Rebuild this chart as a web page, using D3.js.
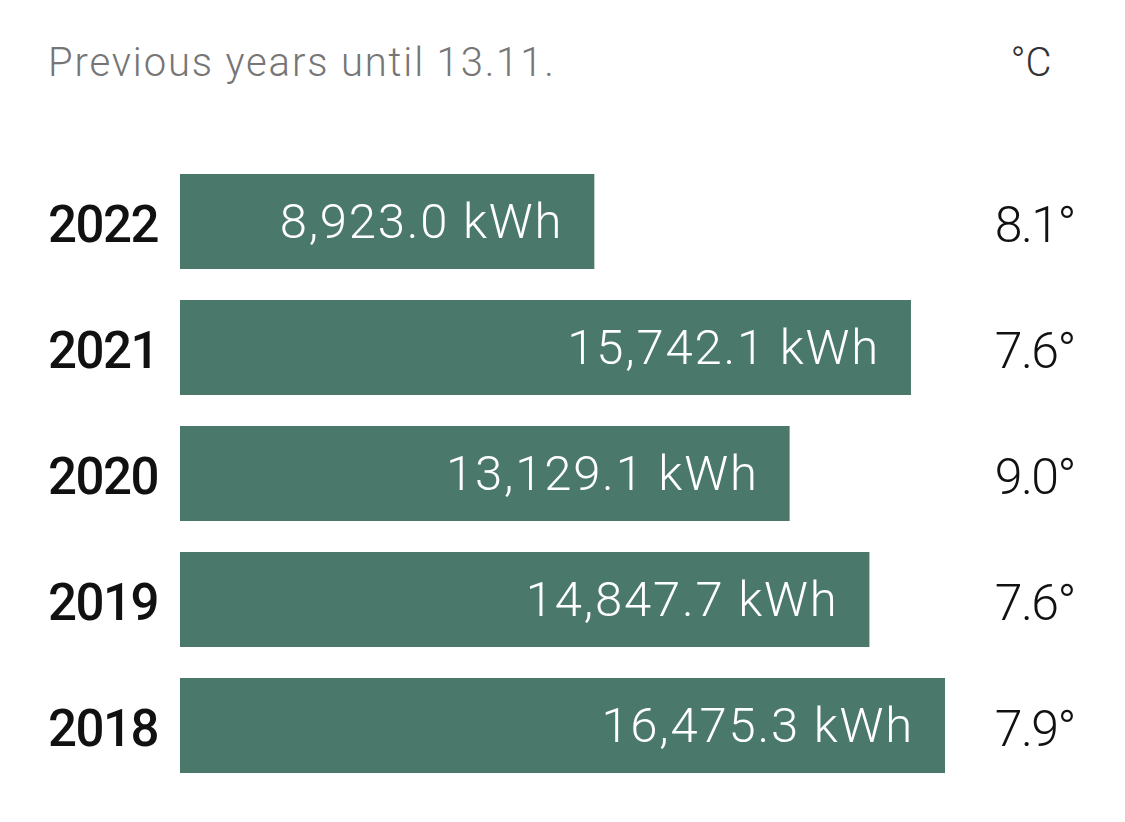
<!DOCTYPE html>
<html><head><meta charset="utf-8">
<script src="https://cdn.jsdelivr.net/npm/d3@7"></script>
<style>body{margin:0;background:#fff;} svg{display:block;}</style>
</head><body>
<script>
const years = ["2022","2021","2020","2019","2018"];
const energy = [8923.0, 15742.1, 13129.1, 14847.7, 16475.3];
const temps = [8.1, 7.6, 9.0, 7.6, 7.9];
const title = "Previous years until 13.11.";
const tempHeader = "°C";

const W = 1125, H = 822;
const svg = d3.select("body").append("svg").attr("width", W).attr("height", H);
const font = "Roboto, 'Open Sans', sans-serif";

const x = d3.scaleLinear().domain([0, 16475.3]).range([180, 945]);
const y = d3.scaleBand().domain(years).range([174, 174 + 126*4 + 95]).paddingInner(31/126);

svg.append("text").attr("x", 48).attr("y", 76).attr("font-family", font).attr("font-size", 40)
  .attr("font-weight", 300).attr("letter-spacing", 1.85)
  .attr("fill", "#767676").text(title);
svg.append("text").attr("x", 1031).attr("y", 76).attr("text-anchor","middle").attr("font-family", font).attr("font-size", 40)
  .attr("font-weight", 300).attr("fill", "#333").text(tempHeader);

const fmt = d3.format(",.1f");
const rows = svg.selectAll("g.row").data(years.map((yr,i)=>({yr, e: energy[i], t: temps[i]}))).join("g");
rows.append("rect").attr("x", x(0)).attr("y", d=>y(d.yr)).attr("width", d=>x(d.e)-x(0)).attr("height", y.bandwidth())
  .attr("fill", "#4a786b");
rows.append("text").attr("x", 48).attr("y", d=>y(d.yr)+y.bandwidth()/2+20).attr("font-family", font)
  .attr("font-size", 51).attr("font-weight", 500).attr("letter-spacing", -1.5).attr("fill", "#111").text(d=>d.yr);
rows.append("text").attr("x", d=>x(d.e)-31).attr("y", d=>y(d.yr)+y.bandwidth()/2+16).attr("text-anchor","end")
  .attr("font-family", font).attr("font-size", 49).attr("font-weight", 300).attr("letter-spacing", 1.8)
  .attr("fill", "#fff").text(d=>fmt(d.e)+" kWh");
rows.append("text").attr("x", 1075).attr("y", d=>y(d.yr)+y.bandwidth()/2+20).attr("text-anchor","end")
  .attr("font-family", font).attr("font-size", 50).attr("font-weight", 300).attr("letter-spacing", -1.5)
  .attr("fill", "#111").text(d=>d3.format(".1f")(d.t)+"°");
</script>
</body></html>
